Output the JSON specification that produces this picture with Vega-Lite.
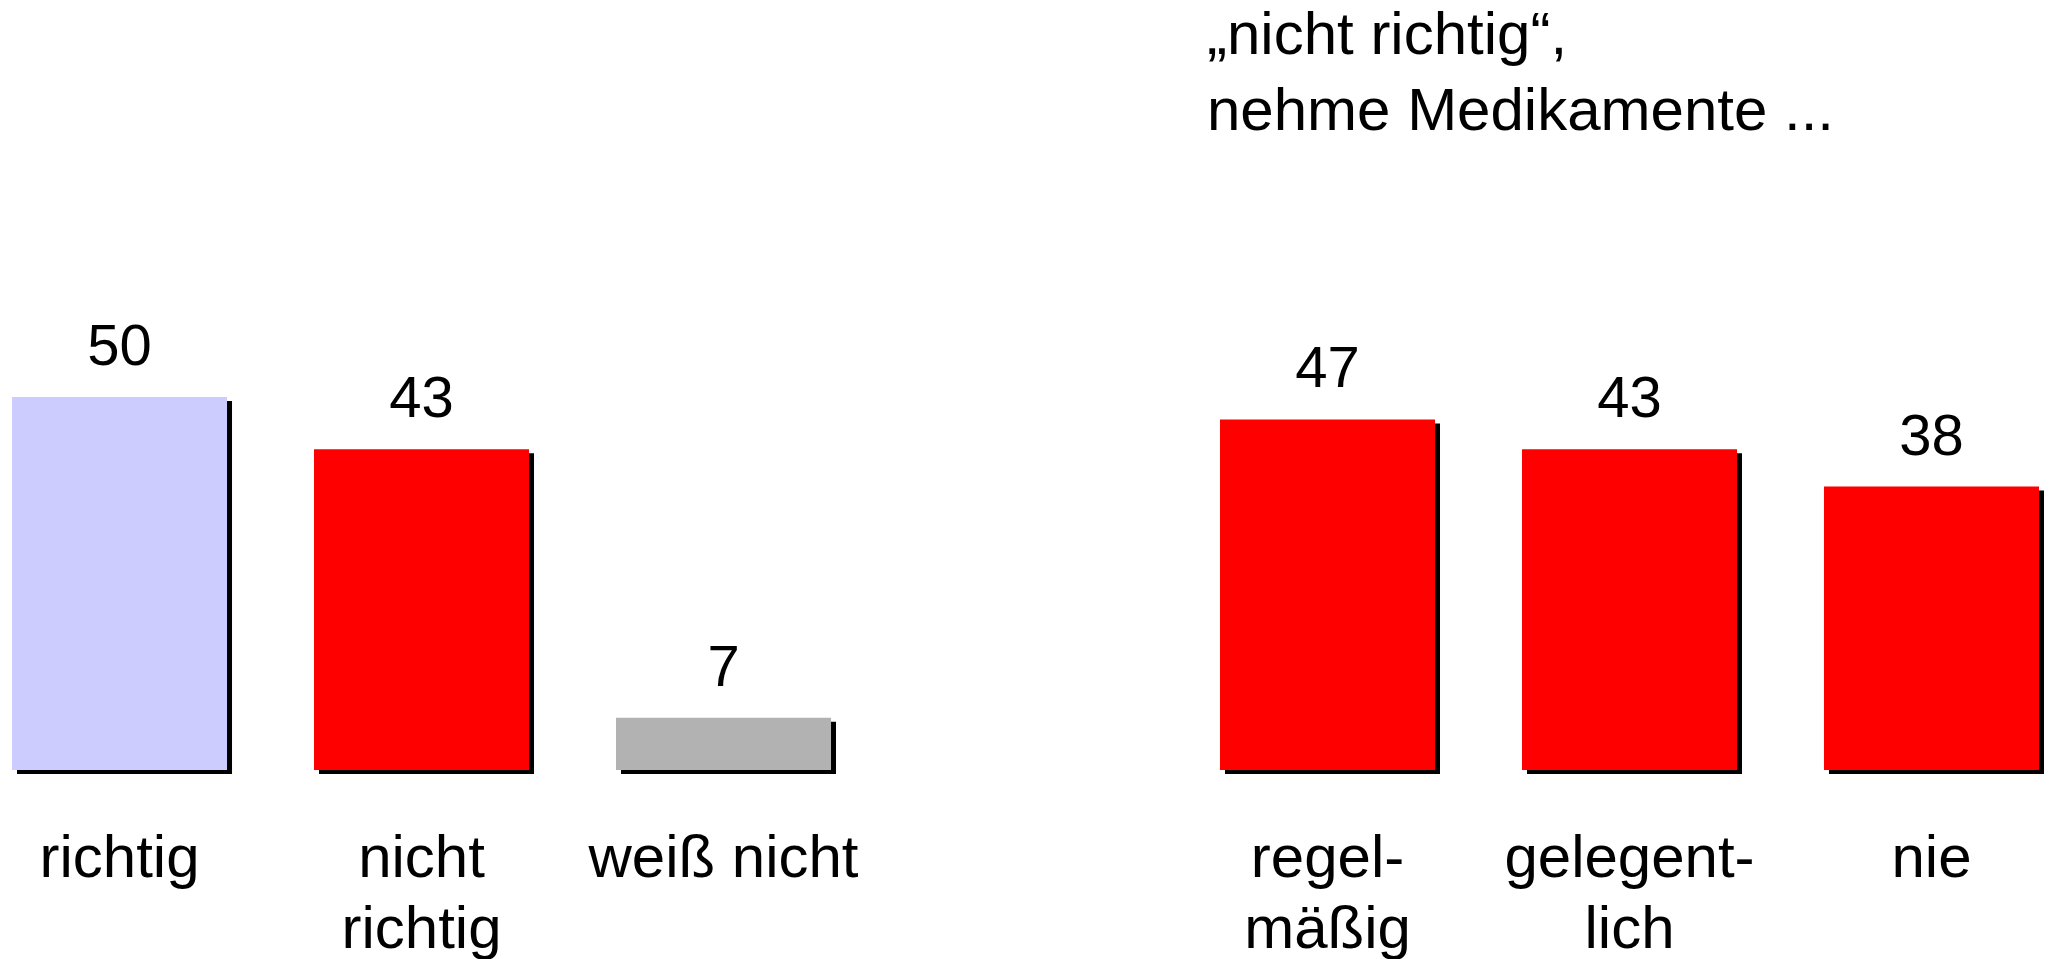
{
  "$schema": "https://vega.github.io/schema/vega-lite/v6.json",
  "autosize": {"type": "none"},
  "width": 2027,
  "height": 619,
  "padding": {"left": 12, "top": 151, "right": 15, "bottom": 189},
  "background": "white",
  "config": {
    "view": {"stroke": null},
    "font": "Liberation Sans"
  },
  "title": {
    "text": ["„nicht richtig“,", "nehme Medikamente ..."],
    "anchor": "start",
    "frame": "group",
    "orient": "top",
    "dx": 1195,
    "offset": -39,
    "baseline": "alphabetic",
    "font": "Liberation Sans",
    "fontSize": 60,
    "fontWeight": "normal",
    "lineHeight": 76,
    "color": "black"
  },
  "data": {
    "values": [
      {"answer": "richtig", "percent": 50, "group": "richtig"},
      {"answer": "nicht|richtig", "percent": 43, "group": "nicht richtig"},
      {"answer": "weiß nicht", "percent": 7, "group": "weiß nicht"},
      {"answer": "regel-|mäßig", "percent": 47, "group": "nicht richtig"},
      {"answer": "gelegent-|lich", "percent": 43, "group": "nicht richtig"},
      {"answer": "nie", "percent": 38, "group": "nicht richtig"}
    ]
  },
  "encoding": {
    "x": {
      "field": "answer",
      "type": "nominal",
      "sort": null,
      "scale": {
        "domain": ["richtig", "nicht|richtig", "weiß nicht", " ", "regel-|mäßig", "gelegent-|lich", "nie"],
        "paddingInner": 0.288,
        "paddingOuter": 0
      },
      "axis": {
        "title": null,
        "domain": false,
        "ticks": false,
        "tickSize": 0,
        "labelAngle": 0,
        "labelPadding": 59,
        "labelFont": "Liberation Sans",
        "labelFontSize": 60,
        "labelColor": "black",
        "labelLineHeight": 71,
        "labelLimit": 0,
        "labelOverlap": false,
        "labelExpr": "split(datum.value, '|')"
      }
    },
    "y": {
      "field": "percent",
      "type": "quantitative",
      "scale": {"domain": [0, 83], "nice": false},
      "axis": null
    }
  },
  "layer": [
    {
      "mark": {"type": "bar", "color": "black", "xOffset": 5, "yOffset": 4, "y2Offset": 4}
    },
    {
      "mark": {"type": "bar"},
      "encoding": {
        "color": {
          "field": "group",
          "type": "nominal",
          "scale": {
            "domain": ["richtig", "nicht richtig", "weiß nicht"],
            "range": ["#CCCCFF", "#FF0000", "#B2B2B2"]
          },
          "legend": null
        }
      }
    },
    {
      "mark": {"type": "text", "baseline": "alphabetic", "dy": -32, "fontSize": 58, "font": "Liberation Sans", "color": "black"},
      "encoding": {
        "text": {"field": "percent", "type": "quantitative"}
      }
    }
  ]
}
